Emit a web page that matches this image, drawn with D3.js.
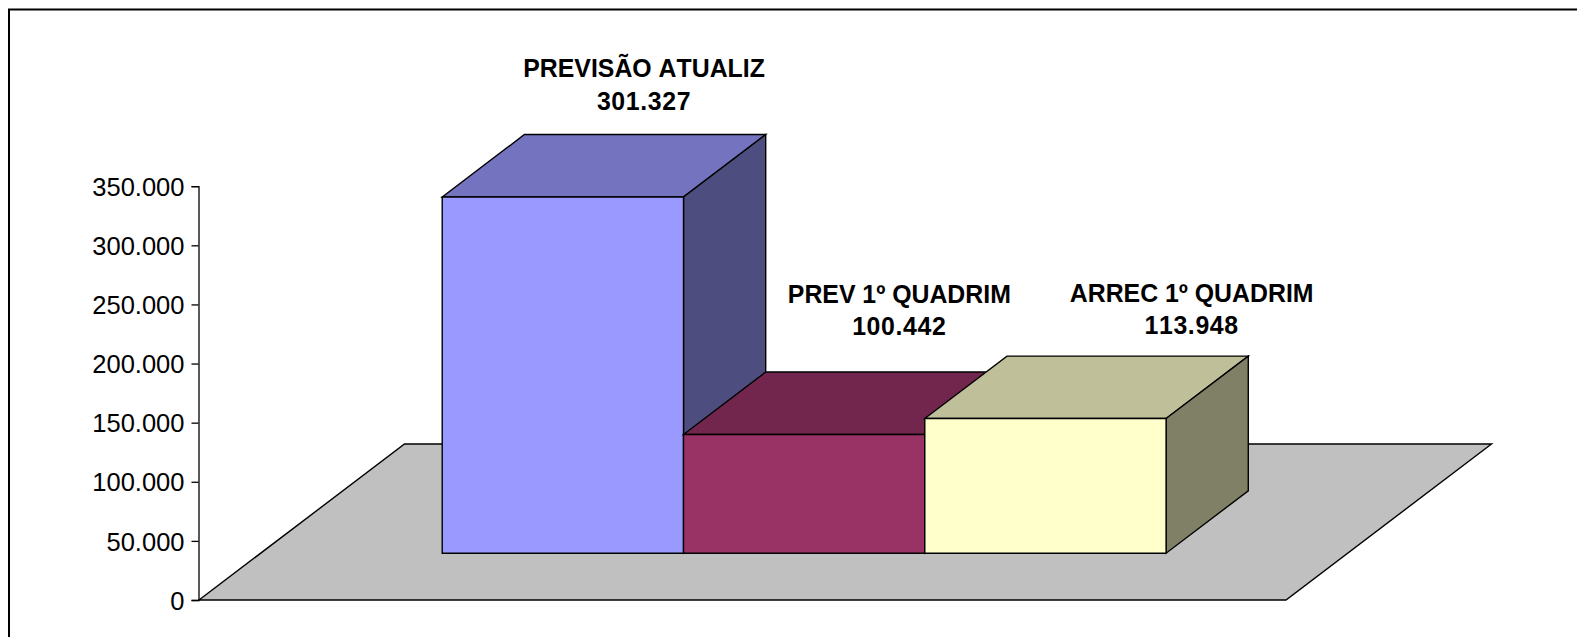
<!DOCTYPE html>
<html><head><meta charset="utf-8">
<script src="https://cdn.jsdelivr.net/npm/d3@7"></script>
<style>html,body{margin:0;padding:0;background:#fff;overflow:hidden}svg{display:block}text{font-family:"Liberation Sans",Arial,sans-serif;fill:#000;font-kerning:none}</style>
</head><body><script>
const seriesNames = ["PREVISÃO ATUALIZ", "PREV 1º QUADRIM", "ARREC 1º QUADRIM"];
const seriesValues = [301327, 100442, 113948];
const valueLabels = ["301.327", "100.442", "113.948"];
const axisTicks = [0, 50000, 100000, 150000, 200000, 250000, 300000, 350000];
const frontColors = ["#9999ff", "#993366", "#ffffcc"];
const topColors = ["#7373bf", "#73264d", "#bfbf99"];
const sideColors = ["#4d4d80", "#4d1a33", "#808066"];

const W = 1577, H = 637;
const svg = d3.select("body").append("svg").attr("width", W).attr("height", H);
svg.append("rect").attr("x", 9).attr("y", 9.5).attr("width", W + 20).attr("height", H + 20)
  .attr("fill", "#fff").attr("stroke", "#000").attr("stroke-width", 2);

const y = d3.scaleLinear().domain([0, 350000]).range([600, 186.2]);
const x = d3.scaleBand().domain(seriesNames).range([199, 1286]).paddingInner(0).paddingOuter(0.7525);
const depth = { dx: 205.5, dy: -156 };
const P = (px, v, d) => [px + d * depth.dx, y(v) + d * depth.dy];
const line = d3.line();
const poly = (pts, fill) => svg.append("path").attr("d", line(pts) + "Z")
  .attr("fill", fill).attr("stroke", "#000").attr("stroke-width", 1.4).attr("stroke-linejoin", "miter");

// floor
const [fx0, fx1] = x.range();
poly([P(fx0,0,0), P(fx1,0,0), P(fx1,0,1), P(fx0,0,1)], "#c0c0c0");

// axis
const axis = d3.axisLeft(y).tickValues(axisTicks).tickSize(7).tickPadding(7)
  .tickFormat(d => d3.format(",")(d).replace(/,/g, "."));
const gA = svg.append("g").attr("transform", "translate(198.5,0)").call(axis);
gA.selectAll("line,path").attr("stroke", "#000").attr("stroke-width", 1.3);
gA.selectAll("text").attr("font-size", 25.5).attr("font-family", '"Liberation Sans",Arial,sans-serif').attr("dy", "0.36em");

// bars
const dF = 0.3, dB = 0.7;
seriesNames.forEach((s, i) => {
  const a = x(s), b = a + x.bandwidth(), v = seriesValues[i];
  poly([P(a,v,dF), P(b,v,dF), P(b,v,dB), P(a,v,dB)], topColors[i]);
  poly([P(b,0,dF), P(b,v,dF), P(b,v,dB), P(b,0,dB)], sideColors[i]);
  poly([P(a,0,dF), P(b,0,dF), P(b,v,dF), P(a,v,dF)], frontColors[i]);
});

// data labels, anchored on each bar's back top edge
const labelNudge = [[-1, -25], [13, -37], [64, -21.8]];
seriesNames.forEach((s, i) => {
  const [bx, by] = P(x(s) + x.bandwidth() / 2, seriesValues[i], dB);
  const t = svg.append("text").attr("text-anchor", "middle").attr("font-weight", "bold").attr("font-size", 24.85);
  t.append("tspan").attr("x", bx + labelNudge[i][0]).attr("y", by + labelNudge[i][1] - 32.5).text(s);
  t.append("tspan").attr("x", bx + labelNudge[i][0]).attr("y", by + labelNudge[i][1]).attr("letter-spacing", 0.65).text(valueLabels[i]);
});
</script></body></html>
